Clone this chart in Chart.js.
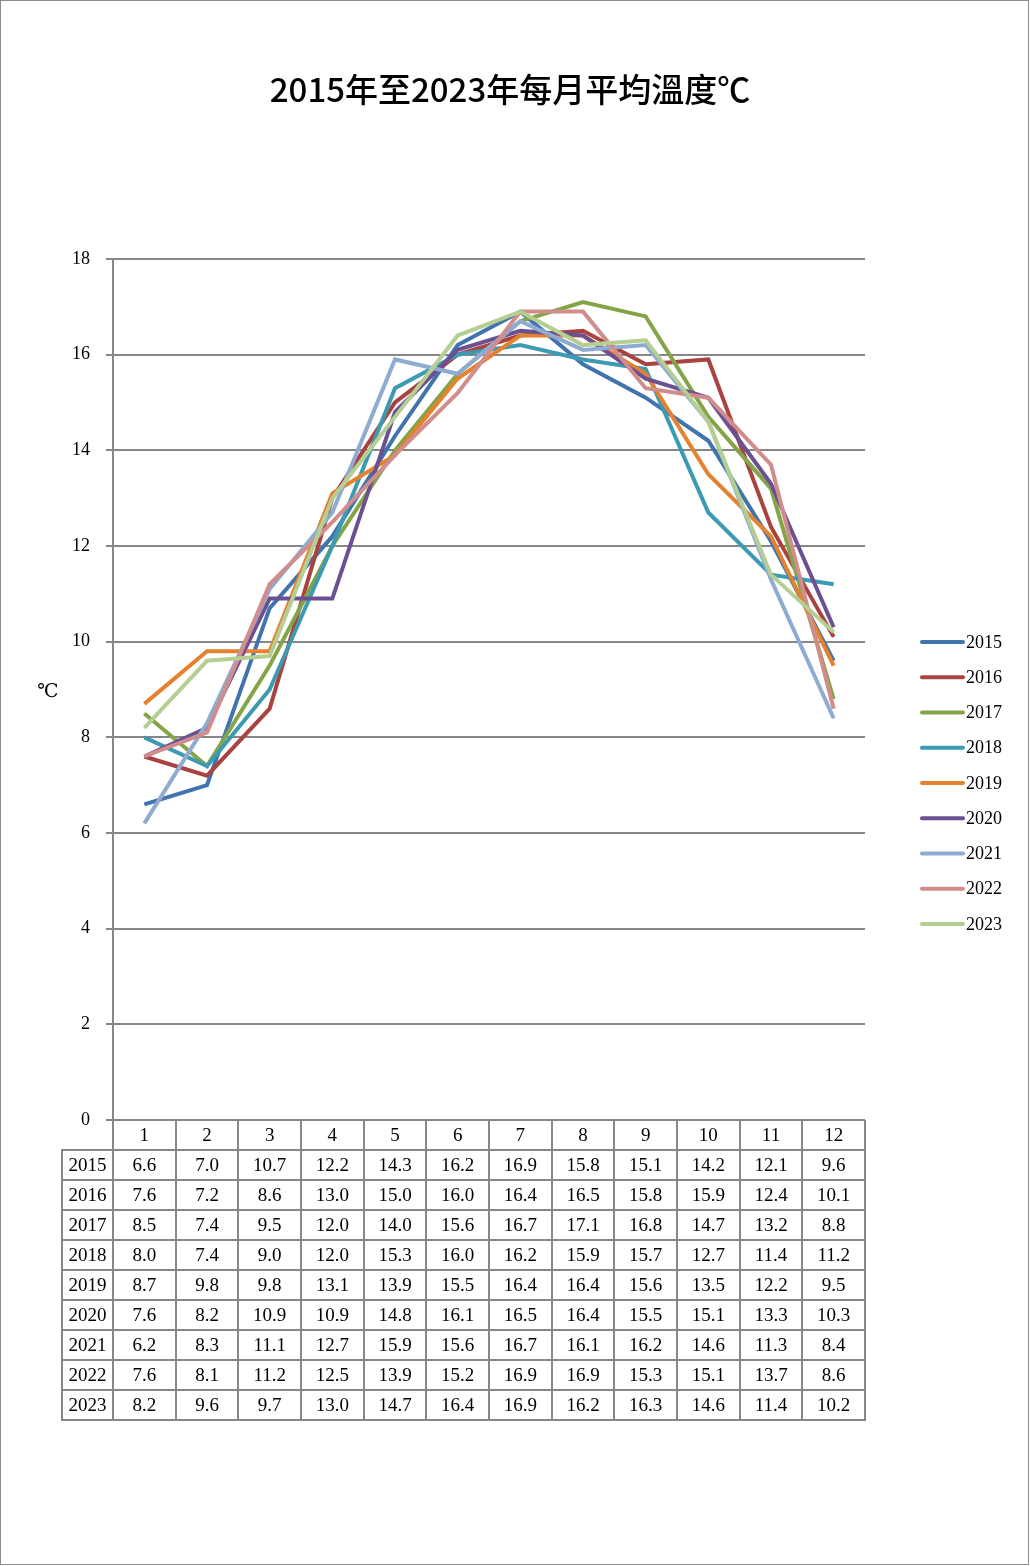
<!DOCTYPE html>
<html>
<head>
<meta charset="utf-8">
<title>2015年至2023年每月平均溫度℃</title>
<script src="https://cdn.jsdelivr.net/npm/chart.js@4.4.1/dist/chart.umd.min.js"></script>
<style>
  html, body { margin: 0; padding: 0; background: #fff; }
  canvas { display: block; }
</style>
</head>
<body>
<canvas id="chart" width="1030" height="1566"></canvas>
<script>
// months along the x axis
const months = ["1", "2", "3", "4", "5", "6", "7", "8", "9", "10", "11", "12"];
const years = ["2015", "2016", "2017", "2018", "2019", "2020", "2021", "2022", "2023"];

const t2015 = [6.6, 7.0, 10.7, 12.2, 14.3, 16.2, 16.9, 15.8, 15.1, 14.2, 12.1, 9.6];
const t2016 = [7.6, 7.2, 8.6, 13.0, 15.0, 16.0, 16.4, 16.5, 15.8, 15.9, 12.4, 10.1];
const t2017 = [8.5, 7.4, 9.5, 12.0, 14.0, 15.6, 16.7, 17.1, 16.8, 14.7, 13.2, 8.8];
const t2018 = [8.0, 7.4, 9.0, 12.0, 15.3, 16.0, 16.2, 15.9, 15.7, 12.7, 11.4, 11.2];
const t2019 = [8.7, 9.8, 9.8, 13.1, 13.9, 15.5, 16.4, 16.4, 15.6, 13.5, 12.2, 9.5];
const t2020 = [7.6, 8.2, 10.9, 10.9, 14.8, 16.1, 16.5, 16.4, 15.5, 15.1, 13.3, 10.3];
const t2021 = [6.2, 8.3, 11.1, 12.7, 15.9, 15.6, 16.7, 16.1, 16.2, 14.6, 11.3, 8.4];
const t2022 = [7.6, 8.1, 11.2, 12.5, 13.9, 15.2, 16.9, 16.9, 15.3, 15.1, 13.7, 8.6];
const t2023 = [8.2, 9.6, 9.7, 13.0, 14.7, 16.4, 16.9, 16.2, 16.3, 14.6, 11.4, 10.2];

const seriesValues = [t2015, t2016, t2017, t2018, t2019, t2020, t2021, t2022, t2023];
const colors = ["#4174ad", "#a9433f", "#83a447", "#3c9bb3", "#e5822f", "#6b5092", "#8eabd2", "#d18d8b", "#b5cf92"];

const gridColor = "#878787";
const serif = "'Liberation Serif', 'DejaVu Serif', serif";

// title, legend, data table and frame
const extras = {
  id: "extras",
  beforeDraw(chart) {
    const ctx = chart.ctx;
    ctx.save();
    ctx.fillStyle = "#fff";
    ctx.fillRect(0, 0, chart.width, chart.height);
    ctx.restore();
  },
  afterDraw(chart) {
    const ctx = chart.ctx;
    const x = chart.scales.x;
    const area = chart.chartArea;
    ctx.save();

    // title
    ctx.fillStyle = "#000";
    ctx.font = "500 33px 'Noto Sans CJK TC', 'Noto Sans CJK SC', sans-serif";
    ctx.textAlign = "center";
    ctx.textBaseline = "middle";
    ctx.fillText("2015年至2023年每月平均溫度℃", 510, 89);

    // y axis label
    ctx.font = "19px " + serif;
    ctx.fillText("℃", 48, 692);

    // legend
    ctx.font = "18px " + serif;
    ctx.textAlign = "left";
    chart.data.datasets.forEach((ds, i) => {
      const y = 642 + i * 35.25;
      ctx.strokeStyle = ds.borderColor;
      ctx.lineWidth = 4;
      ctx.lineCap = "round";
      ctx.beginPath();
      ctx.moveTo(922, y);
      ctx.lineTo(963, y);
      ctx.stroke();
      ctx.fillStyle = "#000";
      ctx.fillText(ds.label, 966, y + 1);
    });

    // data table
    const rowH = 30;
    const top = area.bottom;
    const bottom = top + rowH * (years.length + 1);
    const leftX = 62;
    const half = (x.getPixelForValue(1) - x.getPixelForValue(0)) / 2;
    ctx.strokeStyle = gridColor;
    ctx.lineWidth = 2;
    ctx.lineCap = "butt";
    ctx.beginPath();
    // vertical lines
    for (let i = 0; i <= months.length; i++) {
      const vx = Math.round(x.getPixelForValue(0) - half + i * half * 2);
      ctx.moveTo(vx, top);
      ctx.lineTo(vx, bottom);
    }
    ctx.moveTo(leftX, top + rowH);
    ctx.lineTo(leftX, bottom);
    // horizontal lines
    for (let r = 1; r <= years.length + 1; r++) {
      const hy = top + r * rowH;
      ctx.moveTo(leftX - 1, hy);
      ctx.lineTo(area.right + 1, hy);
    }
    ctx.stroke();

    ctx.fillStyle = "#000";
    ctx.font = "19px " + serif;
    ctx.textAlign = "center";
    ctx.textBaseline = "middle";
    months.forEach((m, i) => {
      ctx.fillText(m, x.getPixelForValue(i), top + rowH / 2 + 1);
    });
    years.forEach((yr, r) => {
      const cy = top + rowH * (r + 1) + rowH / 2 + 1;
      ctx.fillText(yr, (leftX + area.left) / 2, cy);
      seriesValues[r].forEach((v, i) => {
        ctx.fillText(v.toFixed(1), x.getPixelForValue(i), cy);
      });
    });

    // outer frame
    ctx.strokeStyle = "#8c8c8c";
    ctx.lineWidth = 1;
    ctx.strokeRect(0.5, 0.5, chart.width - 2, chart.height - 2);
    ctx.restore();
  }
};

new Chart(document.getElementById("chart"), {
  type: "line",
  data: {
    labels: months,
    datasets: years.map((yr, i) => ({
      label: yr,
      data: seriesValues[i],
      borderColor: colors[i],
      backgroundColor: colors[i],
      borderWidth: 4,
      pointRadius: 0,
      tension: 0,
      order: years.length - i
    }))
  },
  options: {
    responsive: false,
    animation: false,
    layout: { padding: { left: 0, right: 165, top: 259, bottom: 446 } },
    plugins: {
      legend: { display: false },
      title: { display: false },
      tooltip: { enabled: false }
    },
    scales: {
      x: {
        type: "category",
        display: false,
        offset: true
      },
      y: {
        min: 0,
        max: 18,
        ticks: {
          stepSize: 2,
          color: "#000",
          padding: 16,
          font: { family: serif, size: 18 }
        },
        grid: { color: gridColor, lineWidth: 2, tickLength: 7 },
        border: { color: gridColor, width: 2 },
        afterFit(scale) { scale.width = 113; }
      }
    }
  },
  plugins: [extras]
});
</script>
</body>
</html>
